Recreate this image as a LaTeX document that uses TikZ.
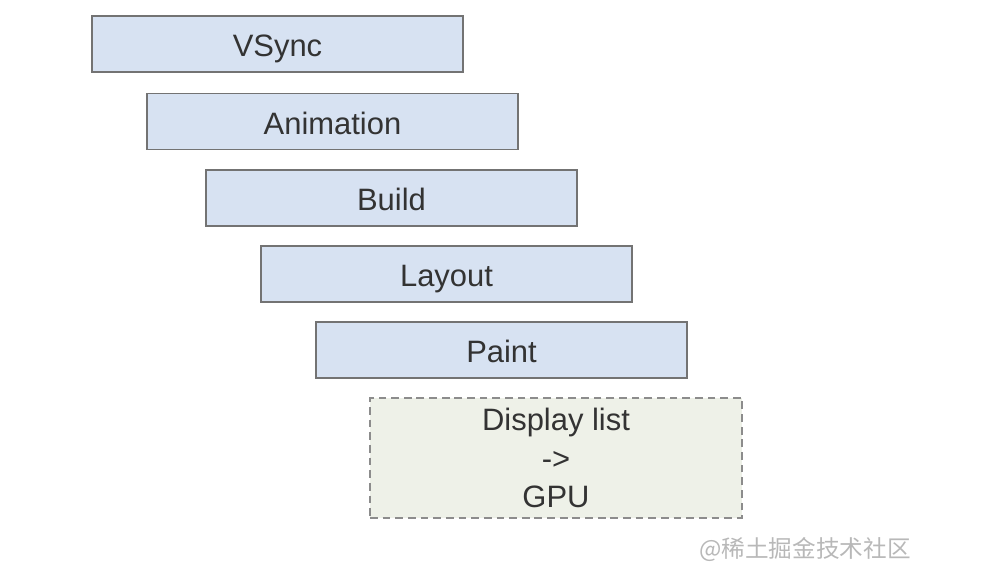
\documentclass[tikz,border=0pt]{standalone}
\usepackage{fontspec}
\setmainfont{Liberation Sans}
\newfontfamily\cjk{Noto Sans CJK SC}
\definecolor{stagefill}{HTML}{D7E2F2}
\definecolor{gpufill}{HTML}{EEF1E8}
\definecolor{textgray}{HTML}{333333}
\tikzset{
    stage/.style={draw=black!55, fill=stagefill, line width=1pt,
        minimum width=9.275cm, minimum height=1.4cm, inner sep=0pt,
        text height=18pt, text depth=0pt,
        text=textgray, font=\fontsize{22}{26}\selectfont},
    gpubox/.style={draw=black!45, fill=gpufill, dash pattern=on 5.5pt off 3.5pt, line width=1pt,
        minimum width=9.3cm, minimum height=3cm, inner sep=0pt, align=center,
        text=textgray, font=\fontsize{22}{27.5}\selectfont}
}
\begin{document}
\begin{tikzpicture}[x=0.025cm, y=-0.025cm]
        \useasboundingbox (0, 0) rectangle (1003, 585);
        \draw node[stage] (vsync) at (277.5, 44) {VSync}
            node[stage] (anim) at (332.5, 121.5) {Animation}
            node[stage] (build) at (391.5, 198) {Build}
            node[stage] (layout) at (446.5, 274) {Layout}
            node[stage] (paint) at (501.5, 350) {Paint}
            node[gpubox] (gpu) at (556, 458) {Display list\\->\\GPU};

        % watermark
        \node[text=black!28, font=\cjk\fontsize{16.8}{19}\selectfont] (mark) at (805, 550) {@稀土掘金技术社区};
    \end{tikzpicture}
\end{document}
